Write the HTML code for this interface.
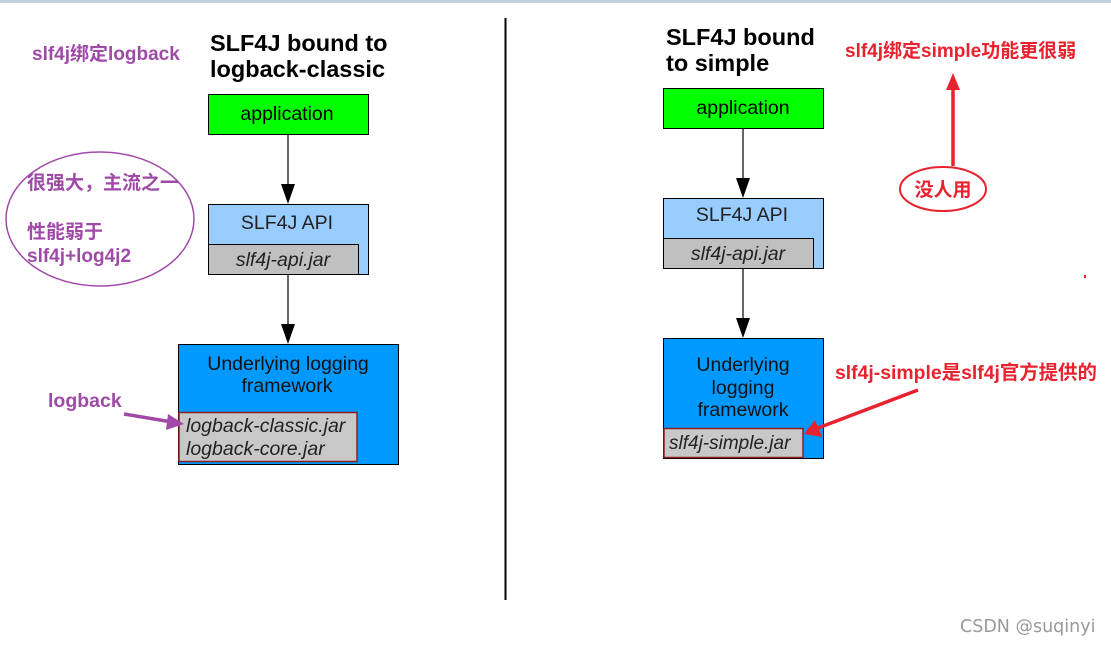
<!DOCTYPE html>
<html><head><meta charset="utf-8"><style>
html,body{margin:0;padding:0;background:#fff;width:1111px;height:646px;overflow:hidden}
svg{display:block}
.t{font-family:"Liberation Sans",sans-serif}
.c{font-family:"Liberation Sans","Noto Sans CJK SC",sans-serif;font-weight:bold}
</style></head><body>
<svg width="1111" height="646" viewBox="0 0 1111 646">
<rect x="0" y="0" width="1111" height="3" fill="#c6d0e2"/>
<line x1="505.5" y1="18" x2="505.5" y2="600" stroke="#000" stroke-width="2"/>
<!-- left diagram -->
<text class="t" x="210" y="51" font-size="23.5" font-weight="bold" fill="#000">SLF4J bound to</text>
<text class="t" x="210" y="77" font-size="23.5" font-weight="bold" fill="#000">logback-classic</text>
<rect x="208.5" y="94.5" width="160" height="40" fill="#00ff00" stroke="#000"/>
<text class="t" x="287" y="120" font-size="19.5" text-anchor="middle">application</text>
<line x1="288" y1="134" x2="288" y2="186" stroke="#000" stroke-width="1.2"/>
<polygon points="281,184 295,184 288,204" fill="#000"/>
<rect x="208.5" y="204.5" width="160" height="70" fill="#99ccff" stroke="#000"/>
<text class="t" x="287" y="229" font-size="19.5" text-anchor="middle" fill="#222">SLF4J API</text>
<rect x="208.5" y="244.5" width="150" height="30" fill="#c0c0c0" stroke="#000"/>
<text class="t" x="283" y="266" font-size="19.5" font-style="italic" text-anchor="middle" fill="#222">slf4j-api.jar</text>
<line x1="288" y1="274" x2="288" y2="326" stroke="#000" stroke-width="1.2"/>
<polygon points="281,324 295,324 288,344" fill="#000"/>
<rect x="178.5" y="344.5" width="220" height="120" fill="#0099ff" stroke="#000"/>
<text class="t" x="288" y="370" font-size="19.5" text-anchor="middle" fill="#111">Underlying logging</text>
<text class="t" x="287" y="392" font-size="19.5" text-anchor="middle" fill="#111">framework</text>
<rect x="179" y="412.5" width="178" height="49" fill="#c8c8c8" stroke="#8b2020" stroke-width="1.5"/>
<text class="t" x="186" y="432" font-size="19.5" font-style="italic" fill="#222">logback-classic.jar</text>
<text class="t" x="186" y="455" font-size="19.5" font-style="italic" fill="#222">logback-core.jar</text>
<!-- purple annotations -->
<text class="c" x="32" y="60" font-size="19" fill="#a04aa8">slf4j绑定logback</text>
<ellipse cx="100" cy="219" rx="94" ry="67" fill="none" stroke="#a04aa8" stroke-width="1.5"/>
<text class="c" x="27" y="189" font-size="19" fill="#a04aa8">很强大，主流之一</text>
<text class="c" x="27" y="238" font-size="19" fill="#a04aa8">性能弱于</text>
<text class="c" x="27" y="262" font-size="19" fill="#a04aa8">slf4j+log4j2</text>
<text class="c" x="48" y="407" font-size="19.5" fill="#a04aa8">logback</text>
<line x1="124" y1="414" x2="172" y2="422" stroke="#a04aa8" stroke-width="3.5"/>
<polygon points="168,414 184,424 166,430" fill="#a04aa8"/>
<!-- right diagram -->
<text class="t" x="666" y="45" font-size="23.5" font-weight="bold" fill="#000">SLF4J bound</text>
<text class="t" x="666" y="71" font-size="23.5" font-weight="bold" fill="#000">to simple</text>
<rect x="663.5" y="88.5" width="160" height="40" fill="#00ff00" stroke="#000"/>
<text class="t" x="743" y="114" font-size="19.5" text-anchor="middle">application</text>
<line x1="743" y1="128" x2="743" y2="180" stroke="#000" stroke-width="1.2"/>
<polygon points="736,178 750,178 743,198" fill="#000"/>
<rect x="663.5" y="198.5" width="160" height="70" fill="#99ccff" stroke="#000"/>
<text class="t" x="742" y="221" font-size="19.5" text-anchor="middle" fill="#222">SLF4J API</text>
<rect x="663.5" y="238.5" width="150" height="30" fill="#c0c0c0" stroke="#000"/>
<text class="t" x="738" y="260" font-size="19.5" font-style="italic" text-anchor="middle" fill="#222">slf4j-api.jar</text>
<line x1="743" y1="268" x2="743" y2="320" stroke="#000" stroke-width="1.2"/>
<polygon points="736,318 750,318 743,338" fill="#000"/>
<rect x="663.5" y="338.5" width="160" height="120" fill="#0099ff" stroke="#000"/>
<text class="t" x="743" y="371" font-size="19.5" text-anchor="middle" fill="#111">Underlying</text>
<text class="t" x="743" y="394" font-size="19.5" text-anchor="middle" fill="#111">logging</text>
<text class="t" x="743" y="416" font-size="19.5" text-anchor="middle" fill="#111">framework</text>
<rect x="664" y="428.5" width="139" height="29" fill="#c8c8c8" stroke="#8b2020" stroke-width="1.5"/>
<text class="t" x="669" y="449" font-size="19" font-style="italic" fill="#222">slf4j-simple.jar</text>
<!-- red annotations -->
<text class="c" x="845" y="57" font-size="19" fill="#e8222e">slf4j绑定simple功能更很弱</text>
<line x1="953" y1="166" x2="953" y2="88" stroke="#e8222e" stroke-width="3.5"/>
<polygon points="946,90 960,90 953,73" fill="#e8222e"/>
<ellipse cx="943" cy="189" rx="43" ry="22" fill="#fff" stroke="#e8222e" stroke-width="2"/>
<text class="c" x="943" y="196" font-size="19" fill="#e8222e" text-anchor="middle">没人用</text>
<rect x="1084" y="275" width="2" height="3" fill="#e8222e"/>
<text class="c" x="835" y="379" font-size="19.4" fill="#e8222e">slf4j-simple是slf4j官方提供的</text>
<line x1="918" y1="390" x2="818" y2="428" stroke="#e8222e" stroke-width="3.5"/>
<polygon points="815,420 822,437 804,434" fill="#e8222e"/>
<text x="960" y="632" font-family="'DejaVu Sans',sans-serif" font-size="17.5" fill="#999">CSDN @suqinyi</text>
</svg>
</body></html>
